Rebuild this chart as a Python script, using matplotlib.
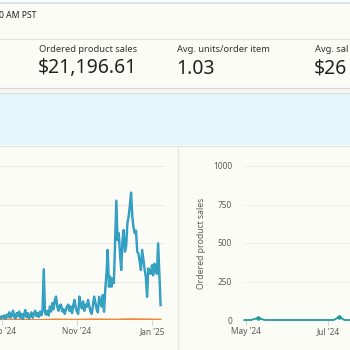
import matplotlib
matplotlib.use("Agg")
import matplotlib.pyplot as plt
import matplotlib.dates as mdates
from matplotlib.patches import Rectangle
import pandas as pd

plt.rcParams['font.family'] = ['Noto Sans', 'DejaVu Sans']

# ---------------- data ----------------
header_text = "0 AM PST"
kpi_labels = ["Ordered product sales", "Avg. units/order item", "Avg. sal"]
kpi_values = ["$21,196.61", "1.03", "$26"]

left_start = "2024-08-30"
left_sales = [20, 10, 25, 15, 30, 8, 35, 20, 50, 15, 30, 60, 20, 10, 45, 25, 55, 15, 40, 5,
              35, 65, 20, 45, 10, 30, 50, 15, 40, 60, 25, 45, 20, 55, 30, 65, 329, 45, 35, 60,
              30, 87, 55, 110, 70, 130, 152, 87, 60, 95, 100, 55, 70, 40, 65, 90, 100, 60, 87, 45,
              95, 130, 80, 55, 40, 152, 100, 75, 120, 60, 100, 85, 130, 90, 55, 40, 95, 152, 110, 70,
              50, 151, 120, 87, 162, 54, 195, 303, 455, 216, 281, 216, 270, 240, 500, 775, 519, 563, 430, 325,
              519, 584, 444, 480, 628, 671, 740, 827, 671, 600, 563, 580, 444, 430, 380, 325, 455, 390, 330, 281,
              151, 335, 310, 300, 355, 290, 365, 320, 300, 498, 300, 97]
left_dates = pd.date_range(left_start, periods=len(left_sales), freq="D")

prev_dates = pd.to_datetime(["2024-08-30", "2024-09-15", "2024-10-01", "2024-10-15", "2024-11-01",
                             "2024-11-15", "2024-12-01", "2024-12-15", "2025-01-01", "2025-01-08"])
prev_sales = [2, 3, 1, 4, 2, 5, 3, 6, 4, 3]

right_dates = pd.to_datetime(["2024-04-30", "2024-05-05", "2024-05-10", "2024-05-15", "2024-06-01",
                              "2024-06-15", "2024-07-01", "2024-07-05", "2024-07-09", "2024-07-13",
                              "2024-08-01", "2024-08-25"])
right_sales = [0, 0, 13, 0, 0, 0, 0, 0, 20, 0, 0, 0]

y_ticks = [0, 250, 500, 750, 1000]

# ---------------- figure ----------------
W = H = 350
BG = '#fcfcf6'
fig = plt.figure(figsize=(3.5, 3.5), dpi=100)
fig.patch.set_facecolor(BG)

bg = fig.add_axes([0, 0, 1, 1])
bg.set_xlim(0, W); bg.set_ylim(H, 0); bg.axis('off')
bg.add_patch(Rectangle((0, 0), W, 2.5, color='white', lw=0))
bg.plot([0, W], [2.5, 2.5], color='#cde6ee', lw=1.2)
bg.plot([0, W], [39, 39], color='#e2e2de', lw=0.8)
bg.plot([0, W], [87.5, 87.5], color='#d8d8d4', lw=0.9)
bg.add_patch(Rectangle((0, 88), W, 4.5, color='#f5f5f1', lw=0))
bg.plot([0, W], [92.5, 92.5], color='#e0e0dc', lw=0.8)
bg.add_patch(Rectangle((0, 93), W, 52, color='#e3f6fc', lw=0))
bg.plot([0, W], [145.5, 145.5], color='#e4e4e0', lw=0.8)
bg.plot([178, 178], [146, H], color='#e6e6e2', lw=0.9)


def fx(x):
    return x / W


def fy(y):
    return 1 - y / H


fig.text(fx(-1), fy(16), header_text, fontsize=6.2, color='#222222', va='center', ha='left')
for xk, lab, val in zip([39, 177, 315], kpi_labels, kpi_values):
    fig.text(fx(xk), fy(50), lab, fontsize=6.7, color='#333333', va='center', ha='left')
    fig.text(fx(xk - 1), fy(68.5), val, fontsize=14, color='#232323', va='center', ha='left')

tick_col = '#5a5a5a'

# ---------------- left chart ----------------
axl = fig.add_axes([0, fy(320), 165 / W, 154 / H])
axl.set_facecolor('none')
axl.set_xlim(pd.Timestamp("2024-08-30 10:00"), pd.Timestamp("2025-01-11 14:00"))
axl.set_ylim(0, 1000)
axl.set_yticks(y_ticks)
axl.yaxis.grid(True, color='#ebebe7', lw=0.8)
axl.tick_params(axis='y', left=False, labelleft=False)
for s in axl.spines.values():
    s.set_visible(False)
axl.xaxis.set_major_locator(mdates.MonthLocator(bymonth=[1, 3, 5, 7, 9, 11]))
axl.xaxis.set_major_formatter(mdates.DateFormatter("%b '%y"))
axl.tick_params(axis='x', length=3.5, color='#d4d4d0', labelsize=6, labelcolor=tick_col, pad=1.5)
axl.plot(prev_dates, prev_sales, color='#f0873a', lw=1.3, zorder=2)
axl.plot(left_dates, left_sales, color='#2a8ed4', lw=1.7, zorder=3)
axl.plot(left_dates, left_sales, color='#3fc0a0', lw=0.8, alpha=0.6, zorder=4)

# ---------------- right chart ----------------
axr = fig.add_axes([244 / W, fy(320), 152 / W, 154 / H])
axr.set_facecolor('none')
axr.set_xlim(pd.Timestamp("2024-04-29 17:00"), pd.Timestamp("2024-08-20 00:00"))
axr.set_ylim(0, 1000)
axr.set_yticks(y_ticks)
axr.yaxis.grid(True, color='#efefeb', lw=0.7)
axr.tick_params(axis='y', length=0, labelsize=6, labelcolor=tick_col, pad=8.6)
for s in axr.spines.values():
    s.set_visible(False)
axr.set_ylabel("Ordered product sales", fontsize=6.2, color=tick_col)
axr.yaxis.set_label_coords(-0.247, 0.5)
axr.xaxis.set_major_locator(mdates.MonthLocator(bymonth=[1, 3, 5, 7, 9, 11]))
axr.xaxis.set_major_formatter(mdates.DateFormatter("%b '%y"))
axr.tick_params(axis='x', length=3.5, color='#d4d4d0', labelsize=6, labelcolor=tick_col, pad=1.5)
axr.plot(right_dates, right_sales, color='#1f9a9a', lw=1.3, clip_on=False, zorder=3)
nz = [(d, v) for d, v in zip(right_dates, right_sales) if v > 0]
axr.scatter([d for d, v in nz], [v for d, v in nz], s=5, color='#1f9a9a', zorder=4)

fig.savefig("out.png", dpi=100, facecolor=BG)
